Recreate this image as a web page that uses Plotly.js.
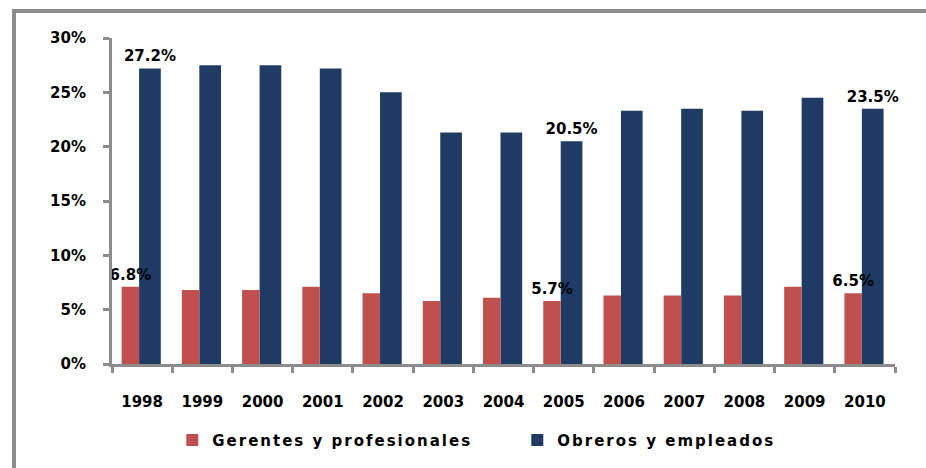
<!DOCTYPE html>
<html>
<head>
<meta charset="utf-8">
<script src="https://cdn.plot.ly/plotly-3.0.1.min.js"></script>
<style>
body{margin:0;padding:0;background:#fff;}
#chart{width:926px;height:468px;position:absolute;left:0;top:0;}
#frame{position:absolute;left:12px;top:9px;width:930px;height:470px;border-top:4px solid #8c8c8c;border-left:4px solid #8c8c8c;pointer-events:none;}
.legendtext{letter-spacing:2px;}
</style>
</head>
<body>
<div id="chart"></div>
<div id="frame"></div>
<script>
var years = ['1998','1999','2000','2001','2002','2003','2004','2005','2006','2007','2008','2009','2010'];
var gerentes = [7.1, 6.8, 6.8, 7.1, 6.5, 5.8, 6.1, 5.8, 6.3, 6.3, 6.3, 7.1, 6.5];
var obreros = [27.2, 27.5, 27.5, 27.2, 25.0, 21.3, 21.3, 20.5, 23.3, 23.5, 23.3, 24.5, 23.5];
var gerentesLabels = ['6.8%','','','','','','','5.7%','','','','','6.5%'];
var obrerosLabels = ['27.2%','','','','','','','20.5%','','','','','23.5%'];
var yTicks = [0,5,10,15,20,25,30];
var yTickLabels = ['0%','5%','10%','15%','20%','25%','30%'];

var font = {family:'DejaVu Sans', size:15, color:'#000', weight:'bold'};

var traces = [
  {type:'bar', name:'Obreros y empleados', x:years, y:obreros,
   text:obrerosLabels, textposition:'outside', cliponaxis:false, constraintext:'none',
   textfont:font, marker:{color:'#1f3a63'}, offset:-0.05, width:0.36, hoverinfo:'none'},
  {type:'bar', name:'Gerentes y profesionales', x:years, y:gerentes,
   text:gerentesLabels, textposition:'outside', cliponaxis:false, constraintext:'none',
   textfont:font, marker:{color:'#c0504d'}, offset:-0.34, width:0.29, hoverinfo:'none'}
];

var layout = {
  width:926, height:468,
  margin:{l:112, r:31, t:38, b:103},
  barmode:'overlay',
  paper_bgcolor:'rgba(0,0,0,0)', plot_bgcolor:'rgba(0,0,0,0)',
  font:font,
  showlegend:true,
  legend:{orientation:'h', x:0.077, xanchor:'left', y:-0.23, yanchor:'middle',
          font:{family:'DejaVu Sans', size:15, color:'#000', weight:'bold'},
          entrywidth:300, entrywidthmode:'pixels', traceorder:'reversed'},
  xaxis:{type:'category', showline:true, linecolor:'#8c8c8c', linewidth:3,
         ticks:'outside', tickson:'boundaries', ticklen:6, tickwidth:3, tickcolor:'#8c8c8c',
         tickfont:font, showgrid:false, zeroline:false, ticklabelstandoff:22, fixedrange:true},
  yaxis:{range:[0,30], tickmode:'array', tickvals:yTicks, ticktext:yTickLabels, showline:true, linecolor:'#8c8c8c', linewidth:3,
         ticks:'outside', ticklen:6, tickwidth:3, tickcolor:'#8c8c8c',
         tickfont:font, showgrid:false, zeroline:false, ticklabelstandoff:14, fixedrange:true}
};

Plotly.newPlot('chart', traces, layout, {displayModeBar:false, staticPlot:true});
</script>
</body>
</html>
